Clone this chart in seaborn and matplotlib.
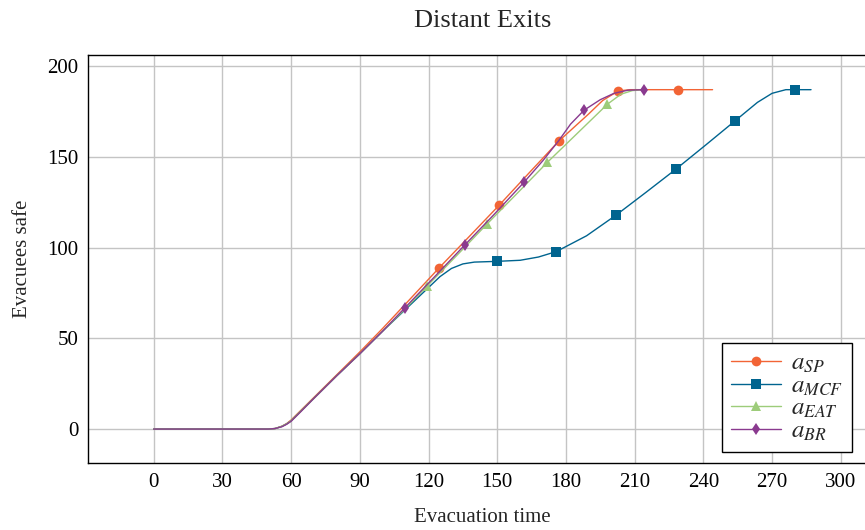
import matplotlib
matplotlib.use("Agg")
import matplotlib.pyplot as plt
import seaborn as sns
import pandas as pd

# ---- data ----
sp_t = [0, 50, 53, 56, 58, 60, 64, 70, 80, 90, 100, 110, 124.6, 137.7, 150.8, 163.8, 176.9, 189.8, 196, 202.8, 208, 229, 244]
sp_y = [0, 0, 0.3, 1.6, 3, 5, 10, 17.5, 30, 42.5, 55.5, 69, 88.8, 106, 123.3, 141, 158.7, 173.5, 181, 186.3, 187, 187, 187]
sp_marks = [124.6, 150.8, 176.9, 202.8, 229]

mcf_t = [0, 50, 53, 56, 58, 60, 64, 70, 80, 90, 100, 110, 115, 120, 125, 130, 135, 140, 149.8, 160, 168, 175.8,
         189, 202, 215, 228, 241, 254, 263.6, 270, 276, 280, 287]
mcf_y = [0, 0, 0.3, 1.5, 2.8, 4.5, 9.5, 17, 29.5, 41.5, 54, 66, 72, 78, 84, 88.5, 91, 92, 92.4, 93, 94.8, 97.8,
         106.5, 118, 130.5, 143.2, 156.5, 170, 180, 185, 187, 187, 187]
mcf_marks = [149.8, 175.8, 202, 228, 254, 280]

eat_t = [0, 50, 53, 56, 58, 60, 64, 70, 80, 90, 100, 110, 119.5, 132.6, 145.7, 158.8, 171.9, 185, 198.1, 204, 209, 214]
eat_y = [0, 0, 0.3, 1.5, 2.8, 4.5, 9.5, 17, 29.5, 41.5, 54, 66.5, 79, 96, 113.2, 130, 147, 163, 179, 184.5, 186.5, 187]
eat_marks = [119.5, 145.7, 171.9, 198.1]

br_t = [0, 50, 53, 56, 58, 60, 64, 70, 80, 90, 100, 109.6, 122.7, 135.8, 148.8, 161.7, 170, 176.9, 182, 187.9,
        195, 201, 207, 214.1]
br_y = [0, 0, 0.3, 1.3, 2.6, 4.3, 9.3, 17, 29.5, 41.5, 54, 66.7, 84, 101.4, 118.5, 136, 148, 159, 168, 175.7,
        181.5, 185, 186.7, 187]
br_marks = [109.6, 135.8, 161.7, 187.9, 214.1]

labels = ["$a_{SP}$", "$a_{MCF}$", "$a_{EAT}$", "$a_{BR}$"]
x_ticks = [0, 30, 60, 90, 120, 150, 180, 210, 240, 270, 300]
y_ticks = [0, 50, 100, 150, 200]

# ---- style ----
sns.set_theme(style="whitegrid")
plt.rcParams["font.family"] = ["Liberation Serif", "DejaVu Serif"]
plt.rcParams["mathtext.fontset"] = "stix"

fig = plt.figure(figsize=(8.65, 5.3), dpi=100)
ax = fig.add_axes([0.1017, 0.1264, 0.9119, 0.7698])

series = [
    (sp_t, sp_y, sp_marks, "#f26435", "o", 7.0),
    (mcf_t, mcf_y, mcf_marks, "#00648f", "s", 6.6),
    (eat_t, eat_y, eat_marks, "#9dcc7a", "^", 6.6),
    (br_t, br_y, br_marks, "#8a3a8f", "d", 6.2),
]

for (t, y, marks, color, mk, ms), lab in zip(series, labels):
    df = pd.DataFrame({"t": t, "y": y})
    idx = [t.index(m) for m in marks]
    sns.lineplot(data=df, x="t", y="y", ax=ax, sort=False, estimator=None,
                 color=color, linewidth=1.0, marker=mk, markevery=idx,
                 markersize=ms, markeredgewidth=0, label=lab)

ax.set_xlim(-28.7, 315.7)
ax.set_ylim(-18.7, 206.1)
ax.set_xticks(x_ticks)
ax.set_yticks(y_ticks)
ax.grid(True, color="#c4c4c4", linewidth=1.0)
for s in ax.spines.values():
    s.set_color("black")
    s.set_linewidth(1.0)
ax.tick_params(axis="both", labelsize=15, direction="in", length=5, color="#b0b0b0",
               colors="black", pad=7)
ax.tick_params(axis="both", color="#b0b0b0")

ax.set_title("Distant Exits", fontsize=19, pad=20)
ax.set_xlabel("Evacuation time", fontsize=15, labelpad=12)
ax.set_ylabel("Evacuees safe", fontsize=15, labelpad=11)

leg = ax.legend(loc="lower right", bbox_to_anchor=(0.968, 0.027), fontsize=18,
                frameon=True, fancybox=False, edgecolor="black", framealpha=1,
                handlelength=2.0, borderpad=0.35, labelspacing=0.0, handletextpad=0.4,
                borderaxespad=0)
leg.get_frame().set_linewidth(1.0)

fig.savefig("out.png", dpi=100)
